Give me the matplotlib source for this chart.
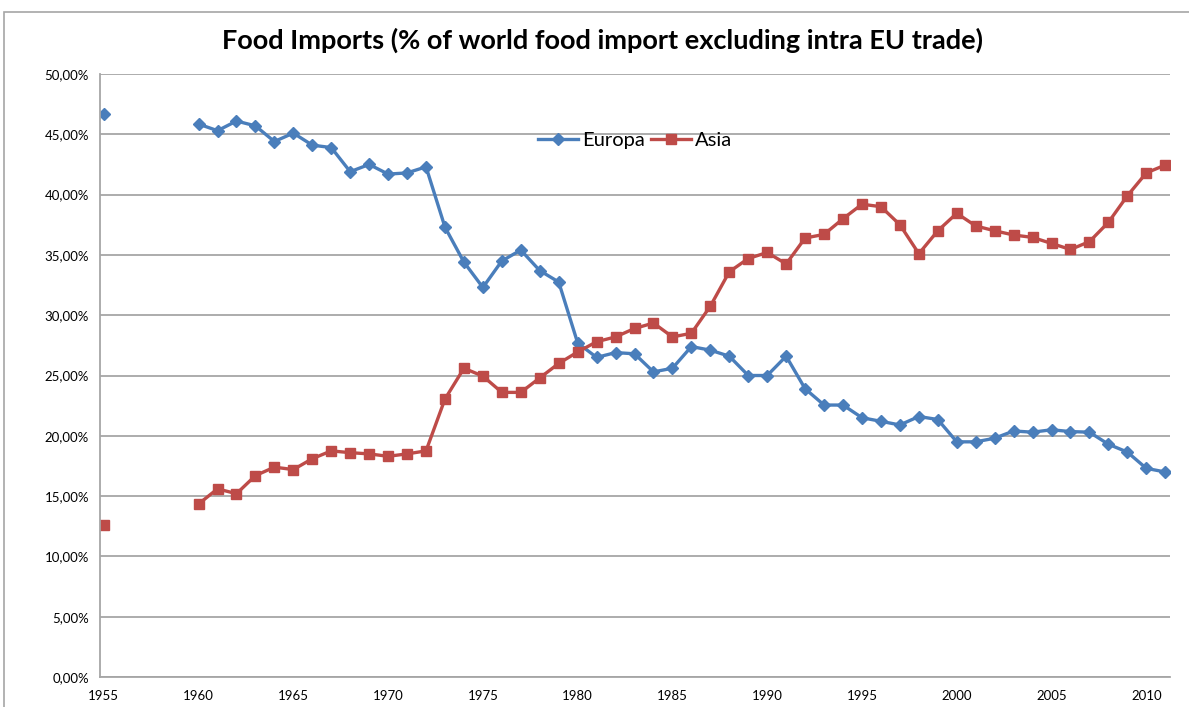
import matplotlib
matplotlib.use('Agg')
import matplotlib.pyplot as plt
from matplotlib.patches import Rectangle
from matplotlib.ticker import FuncFormatter
import numpy as np
import pandas as pd

years = [1955] + list(range(1960, 2012))

europa = [46.7,
          45.85, 45.3, 46.1, 45.7, 44.4, 45.1, 44.1, 43.9, 41.9, 42.5,
          41.7, 41.8, 42.3, 37.3, 34.4, 32.3, 34.5, 35.4, 33.7, 32.75,
          27.7, 26.5, 26.9, 26.8, 25.3, 25.6, 27.4, 27.1, 26.6, 25.0,
          25.0, 26.6, 23.9, 22.55, 22.55, 21.5, 21.2, 20.9, 21.6, 21.35,
          19.5, 19.5, 19.8, 20.4, 20.3, 20.5, 20.35, 20.3, 19.3, 18.65,
          17.3, 17.0]

asia = [12.6,
        14.35, 15.6, 15.2, 16.7, 17.4, 17.2, 18.1, 18.75, 18.6, 18.5,
        18.3, 18.5, 18.75, 23.05, 25.6, 24.95, 23.6, 23.6, 24.8, 26.0,
        26.95, 27.8, 28.2, 28.9, 29.35, 28.2, 28.5, 30.75, 33.6, 34.7,
        35.2, 34.25, 36.4, 36.7, 38.0, 39.2, 39.0, 37.5, 35.1, 37.0,
        38.45, 37.4, 37.0, 36.65, 36.45, 35.95, 35.45, 36.1, 37.7, 39.9,
        41.8, 42.45]

# missing years (1956-1959) become NaN so the lines break there
df = pd.DataFrame({'Europa': europa, 'Asia': asia}, index=years)
df = df.reindex(range(1955, 2012))

plt.rcParams['font.family'] = ['Lato', 'DejaVu Sans']

fig = plt.figure(figsize=(11.89, 7.07), dpi=100)
ax = fig.add_axes([100 / 1189, 1 - 677 / 707, 1070 / 1189, (677 - 74) / 707])

# chart area border
fig.patches.append(Rectangle((4 / 1189, -0.2), 1.2, 1.2 - 12 / 707,
                             transform=fig.transFigure, fill=False,
                             edgecolor='#a6a6a6', linewidth=1.2))

ax.plot(df.index, df['Europa'], color='#4a7ebb', linewidth=2.4,
        marker='D', markersize=6.5, label='Europa')
ax.plot(df.index, df['Asia'], color='#be4b48', linewidth=2.4,
        marker='s', markersize=7.5, label='Asia')

ax.set_xlim(1954.8, 2011.25)
ax.set_ylim(0, 50)
ax.set_yticks(np.arange(0, 50.1, 5))
ax.set_xticks(range(1955, 2011, 5))
ax.yaxis.set_major_formatter(FuncFormatter(lambda v, p: f'{v:.2f}%'.replace('.', ',')))
ax.grid(axis='y', color='#a6a6a6', linewidth=1.3)
ax.set_axisbelow(True)
ax.tick_params(length=0, labelsize=9.5, colors='black', pad=8)
ax.tick_params(axis='x', pad=9)
for s in ['top', 'right']:
    ax.spines[s].set_visible(False)
for s in ['left', 'bottom']:
    ax.spines[s].set_color('#a6a6a6')
    ax.spines[s].set_linewidth(1.3)

ax.legend(loc='center', bbox_to_anchor=(0.5, 0.89), ncol=2, frameon=False,
          fontsize=14.5, handlelength=2.0, columnspacing=0.3, handletextpad=0.2)

fig.text(603 / 1189, 1 - 40 / 707, 'Food Imports (% of world food import excluding intra EU trade)',
         ha='center', va='center', fontsize=19.5, fontweight='bold')

plt.savefig('out.png', dpi=100)
